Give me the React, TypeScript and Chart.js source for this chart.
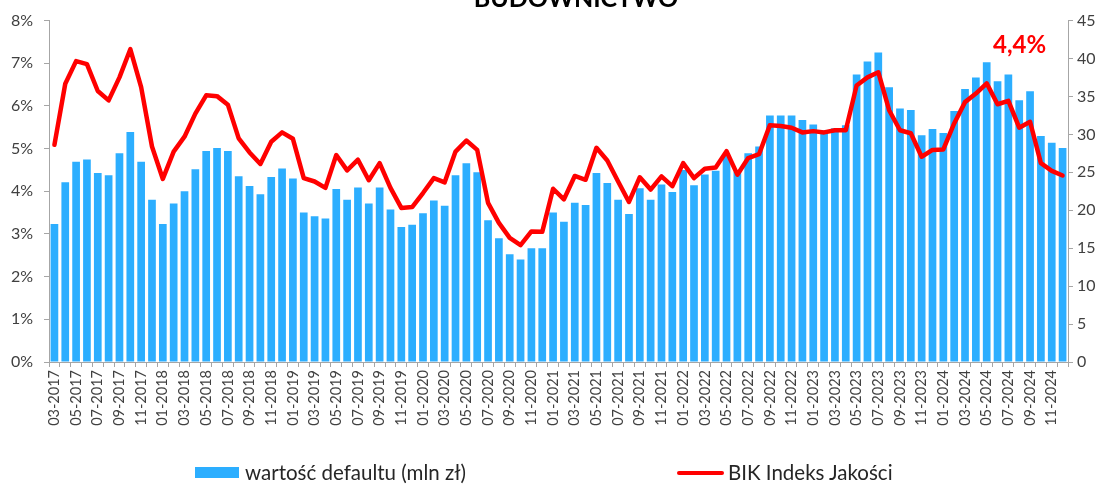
import React, { useEffect, useRef } from 'react';
import { Chart, registerables } from 'chart.js';

Chart.register(...registerables);

const TITLE = 'BUDOWNICTWO';
const BAR_LABEL = 'wartość defaultu (mln zł)';
const LINE_LABEL = 'BIK Indeks Jakości';

const months: string[] = [
  '03-2017', '04-2017', '05-2017', '06-2017', '07-2017', '08-2017', '09-2017', '10-2017', '11-2017', '12-2017',
  '01-2018', '02-2018', '03-2018', '04-2018', '05-2018', '06-2018', '07-2018', '08-2018', '09-2018', '10-2018', '11-2018', '12-2018',
  '01-2019', '02-2019', '03-2019', '04-2019', '05-2019', '06-2019', '07-2019', '08-2019', '09-2019', '10-2019', '11-2019', '12-2019',
  '01-2020', '02-2020', '03-2020', '04-2020', '05-2020', '06-2020', '07-2020', '08-2020', '09-2020', '10-2020', '11-2020', '12-2020',
  '01-2021', '02-2021', '03-2021', '04-2021', '05-2021', '06-2021', '07-2021', '08-2021', '09-2021', '10-2021', '11-2021', '12-2021',
  '01-2022', '02-2022', '03-2022', '04-2022', '05-2022', '06-2022', '07-2022', '08-2022', '09-2022', '10-2022', '11-2022', '12-2022',
  '01-2023', '02-2023', '03-2023', '04-2023', '05-2023', '06-2023', '07-2023', '08-2023', '09-2023', '10-2023', '11-2023', '12-2023',
  '01-2024', '02-2024', '03-2024', '04-2024', '05-2024', '06-2024', '07-2024', '08-2024', '09-2024', '10-2024', '11-2024', '12-2024',
];

// wartość defaultu (mln zł) – right axis
const defaultValue: number[] = [
  18.2, 23.7, 26.4, 26.7, 24.9, 24.6, 27.5, 30.3, 26.4, 21.4,
  18.2, 20.9, 22.5, 25.4, 27.8, 28.2, 27.8, 24.5, 23.2, 22.1, 24.4, 25.5,
  24.2, 19.7, 19.2, 18.9, 22.8, 21.4, 23.0, 20.9, 23.0, 20.1, 17.8, 18.1,
  19.6, 21.3, 20.6, 24.6, 26.2, 25.0, 18.7, 16.3, 14.2, 13.5, 15.0, 15.0,
  19.7, 18.5, 21.0, 20.7, 24.9, 23.6, 21.4, 19.5, 22.9, 21.4, 23.4, 22.4,
  25.3, 23.3, 24.7, 25.2, 27.2, 25.1, 27.5, 28.4, 32.5, 32.5, 32.5, 31.9,
  31.3, 30.5, 30.8, 31.2, 37.9, 39.6, 40.8, 36.2, 33.4, 33.2, 29.9, 30.7,
  30.2, 33.1, 36.0, 37.5, 39.5, 37.0, 37.9, 34.5, 35.7, 29.8, 28.9, 28.2,
];

// BIK Indeks Jakości (%) – left axis
const bikIndex: number[] = [
  5.09, 6.52, 7.05, 6.98, 6.35, 6.13, 6.67, 7.33, 6.44, 5.05,
  4.29, 4.93, 5.28, 5.82, 6.25, 6.23, 6.03, 5.24, 4.91, 4.64, 5.16, 5.38,
  5.23, 4.31, 4.23, 4.08, 4.85, 4.49, 4.74, 4.26, 4.66, 4.08, 3.61, 3.63,
  3.96, 4.31, 4.21, 4.93, 5.19, 4.97, 3.73, 3.26, 2.91, 2.74, 3.06, 3.05,
  4.06, 3.81, 4.36, 4.27, 5.02, 4.72, 4.23, 3.75, 4.33, 4.04, 4.35, 4.12,
  4.66, 4.31, 4.53, 4.56, 4.94, 4.39, 4.78, 4.87, 5.55, 5.53, 5.49, 5.38,
  5.41, 5.38, 5.43, 5.43, 6.48, 6.67, 6.79, 5.90, 5.43, 5.36, 4.81, 4.97,
  4.98, 5.59, 6.09, 6.29, 6.53, 6.04, 6.12, 5.49, 5.63, 4.66, 4.48, 4.37,
];

const BAR_COLOR = '#2CAEFF';
const LINE_COLOR = '#FF0000';
const AXIS_COLOR = '#A6A6A6';
const TEXT_COLOR = '#404040';
const FONT = 'Lato';

const textPlugin = {
  id: 'extraTexts',
  afterDraw(chart: any) {
    const ctx = chart.ctx;
    ctx.save();
    ctx.textAlign = 'center';
    ctx.textBaseline = 'alphabetic';
    ctx.fillStyle = '#000000';
    ctx.font = `bold 25px ${FONT}`;
    ctx.fillText(TITLE, 576, 7);

    const meta = chart.getDatasetMeta(1);
    const last = meta.data[meta.data.length - 1];
    const lastVal = bikIndex[bikIndex.length - 1];
    const label = lastVal.toFixed(1).replace('.', ',') + '%';
    ctx.fillStyle = LINE_COLOR;
    ctx.font = `bold 24px ${FONT}`;
    ctx.fillText(label, last.x - 43, 53);
    ctx.restore();
  },
};

export default function App() {
  const ref = useRef<HTMLCanvasElement | null>(null);

  useEffect(() => {
    const prevMargin = document.body.style.margin;
    document.body.style.margin = '0';
    const canvas = ref.current!;
    const chart = new Chart(canvas, {
      type: 'bar',
      data: {
        labels: months,
        datasets: [
          {
            type: 'bar',
            label: BAR_LABEL,
            data: defaultValue,
            yAxisID: 'y1',
            backgroundColor: BAR_COLOR,
            borderWidth: 0,
            barPercentage: 0.71,
            categoryPercentage: 1,
            order: 2,
          },
          {
            type: 'line',
            label: LINE_LABEL,
            data: bikIndex,
            yAxisID: 'y',
            borderColor: LINE_COLOR,
            backgroundColor: LINE_COLOR,
            borderWidth: 4.5,
            pointRadius: 0,
            tension: 0,
            borderJoinStyle: 'round',
            borderCapStyle: 'round',
            order: 1,
          },
        ],
      } as any,
      options: {
        responsive: false,
        animation: false,
        layout: { padding: { top: 18, left: 0, right: 0, bottom: 0 } },
        plugins: {
          legend: { display: false },
          title: { display: false },
          tooltip: { enabled: false },
        },
        scales: {
          x: {
            offset: true,
            grid: {
              offset: true,
              drawOnChartArea: false,
              drawTicks: true,
              tickLength: 5,
              color: AXIS_COLOR,
            },
            border: { display: true, color: AXIS_COLOR, width: 1 },
            ticks: {
              autoSkip: false,
              maxRotation: 90,
              minRotation: 90,
              padding: 3,
              color: TEXT_COLOR,
              font: { family: FONT, size: 14.5 },
              callback: (_v: any, i: number) => (i % 2 === 0 ? months[i] : ''),
            },
            afterFit: (s: any) => {
              s.height = 122;
            },
          },
          y: {
            position: 'left',
            min: 0,
            max: 8,
            grid: {
              drawOnChartArea: false,
              tickLength: 5,
              color: AXIS_COLOR,
            },
            border: { display: true, color: AXIS_COLOR, width: 1 },
            ticks: {
              stepSize: 1,
              padding: 11,
              color: TEXT_COLOR,
              font: { family: FONT, size: 16 },
              callback: (v: any) => `${v}%`,
            },
            afterFit: (s: any) => {
              s.width = 49;
            },
          },
          y1: {
            position: 'right',
            min: 0,
            max: 45,
            grid: {
              drawOnChartArea: false,
              tickLength: 5,
              color: AXIS_COLOR,
            },
            border: { display: true, color: AXIS_COLOR, width: 1 },
            ticks: {
              stepSize: 5,
              padding: 4,
              color: TEXT_COLOR,
              font: { family: FONT, size: 16 },
            },
            afterFit: (s: any) => {
              s.width = 38;
            },
          },
        },
      } as any,
      plugins: [textPlugin],
    });
    return () => {
      chart.destroy();
      document.body.style.margin = prevMargin;
    };
  }, []);

  return (
    <div style={{ position: 'absolute', left: 0, top: 0, width: 1106, height: 484, overflow: 'hidden', background: '#fff' }}>
      <canvas ref={ref} width={1106} height={484} style={{ position: 'absolute', left: 0, top: 0 }} />
      <div style={{ position: 'absolute', left: 195, top: 467, width: 44, height: 11, background: BAR_COLOR }} />
      <div
        style={{
          position: 'absolute', left: 245, top: 459, height: 26, lineHeight: '26px',
          fontFamily: FONT, fontSize: 20.5, color: '#262626', whiteSpace: 'nowrap',
        }}
      >
        {BAR_LABEL}
      </div>
      <div style={{ position: 'absolute', left: 677, top: 471, width: 47, height: 4, background: LINE_COLOR, borderRadius: 2 }} />
      <div
        style={{
          position: 'absolute', left: 728, top: 459, height: 26, lineHeight: '26px',
          fontFamily: FONT, fontSize: 20.5, color: '#262626', whiteSpace: 'nowrap',
        }}
      >
        {LINE_LABEL}
      </div>
    </div>
  );
}
